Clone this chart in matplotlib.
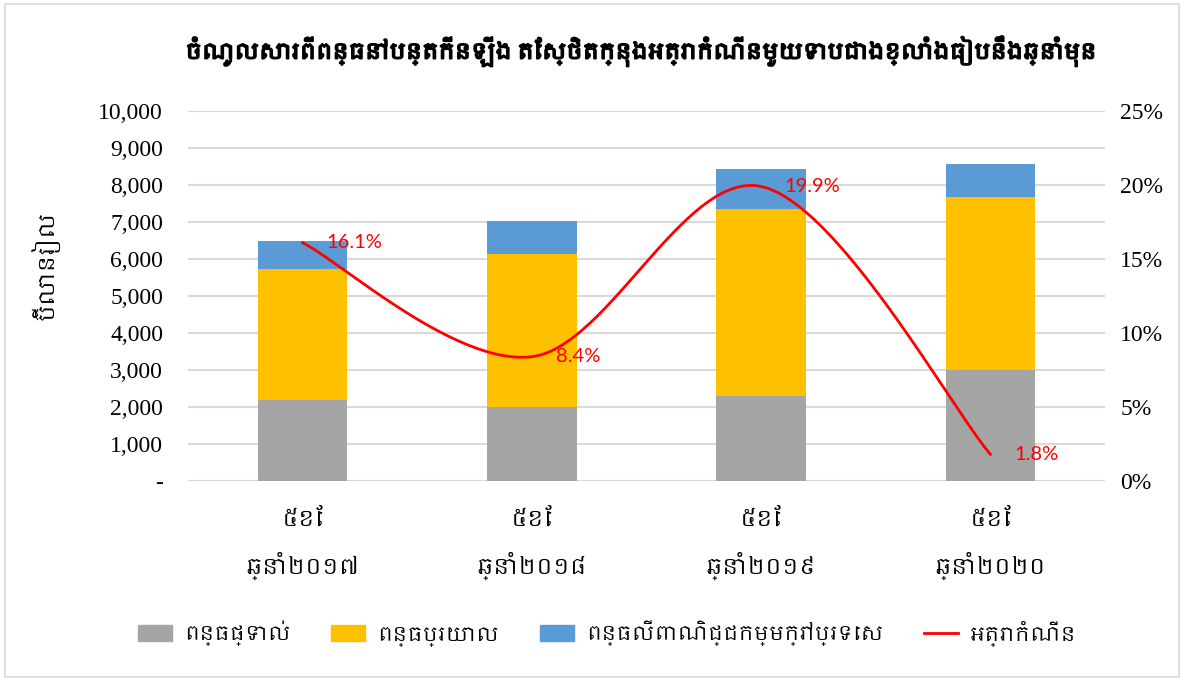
import numpy as np
import matplotlib
matplotlib.use("Agg")
import matplotlib.pyplot as plt
import matplotlib.patheffects as pe
from matplotlib import font_manager
from matplotlib.ft2font import FT2Font
from matplotlib.patches import Patch, Rectangle
from matplotlib.lines import Line2D
from matplotlib.ticker import FuncFormatter, MultipleLocator

# ---------------- data ----------------
months = ["៥ខែ", "៥ខែ", "៥ខែ", "៥ខែ"]
years = ["ឆ្នាំ២០១៧", "ឆ្នាំ២០១៨", "ឆ្នាំ២០១៩", "ឆ្នាំ២០២០"]
direct_tax = [2200, 2010, 2300, 3010]
indirect_tax = [3520, 4120, 5040, 4660]
trade_tax = [770, 900, 1090, 910]
growth = [16.1, 8.4, 19.9, 1.8]
growth_labels = ["16.1%", "8.4%", "19.9%", "1.8%"]
series_names = ["ពន្ធផ្ទាល់", "ពន្ធប្រយោល", "ពន្ធលើពាណិជ្ជកម្មក្រៅប្រទេស", "អត្រាកំណើន"]
title = "ចំណូលសារពើពន្ធនៅបន្តកើនឡើង តែស្ថិតក្នុងអត្រាកំណើនមួយទាបជាងខ្លាំងធៀបនឹងឆ្នាំមុន"
ylabel = "ប៊ីលានរៀល"

# ---------------- fonts ----------------
serif = "Liberation Serif"
plt.rcParams["font.family"] = serif

khmer_family = None
for f in font_manager.fontManager.ttflist:
    if "khmer" in f.name.lower():
        khmer_family = f.name
        break
if khmer_family is None:
    for f in font_manager.fontManager.ttflist:
        try:
            ft = FT2Font(f.fname)
            if ft.get_char_index(0x1780) and ft.get_char_index(0x17E0):
                khmer_family = f.name
                break
        except Exception:
            pass
kfam = [khmer_family, "DejaVu Sans"] if khmer_family else ["DejaVu Sans"]

c_gray, c_yellow, c_blue, c_red = "#A5A5A5", "#FFC000", "#5B9BD5", "#FF0000"

fig = plt.figure(figsize=(11.84, 6.81), dpi=100)
fig.patch.set_facecolor("white")
fig.add_artist(Rectangle((0.004, 0.006), 0.992, 0.988, transform=fig.transFigure,
                         fill=False, edgecolor="#D9D9D9", linewidth=1.2))

ax = fig.add_axes([0.1588, 0.2937, 0.7745, 0.5433])
x = np.arange(len(years))
w = 0.39
b1 = np.array(direct_tax)
b2 = b1 + np.array(indirect_tax)
ax.bar(x, direct_tax, w, color=c_gray, zorder=2)
ax.bar(x, indirect_tax, w, bottom=b1, color=c_yellow, zorder=2)
ax.bar(x, trade_tax, w, bottom=b2, color=c_blue, zorder=2)

ax.set_xlim(-0.5, len(years) - 0.5)
ax.set_ylim(0, 10000)
ax.yaxis.set_major_locator(MultipleLocator(1000))
ax.yaxis.set_major_formatter(FuncFormatter(lambda v, p: "-" if v == 0 else f"{int(v):,}"))
ax.grid(axis="y", color="#D9D9D9", linewidth=1.5, zorder=0)
ax.set_axisbelow(True)
for s in ax.spines.values():
    s.set_visible(False)
ax.tick_params(axis="y", length=0, pad=18, labelsize=17)
ax.set_xticks(x)
ax.set_xticklabels([f"{m}\n{yv}" for m, yv in zip(months, years)], linespacing=2.0,
                   fontfamily=kfam)
ax.tick_params(axis="x", length=0, pad=20, labelsize=16)

# secondary axis with smoothed growth line
ax2 = ax.twinx()
ax2.set_ylim(0, 25)
ax2.yaxis.set_major_locator(MultipleLocator(5))
ax2.yaxis.set_major_formatter(FuncFormatter(lambda v, p: f"{int(v)}%"))
for s in ax2.spines.values():
    s.set_visible(False)
ax2.tick_params(axis="y", length=0, pad=11, labelsize=17)

# Catmull-Rom smoothing (like Excel's smoothed line)
P = np.column_stack([x.astype(float), np.array(growth, dtype=float)])
ext = np.vstack([P[0], P, P[-1]])
curve = []
for i in range(len(P) - 1):
    p0, p1, p2, p3 = ext[i], ext[i + 1], ext[i + 2], ext[i + 3]
    c1 = p1 + (p2 - p0) / 6.0
    c2 = p2 - (p3 - p1) / 6.0
    t = np.linspace(0, 1, 60)[:, None]
    seg = ((1 - t) ** 3) * p1 + 3 * ((1 - t) ** 2) * t * c1 + 3 * (1 - t) * t ** 2 * c2 + t ** 3 * p2
    curve.append(seg if i == 0 else seg[1:])
curve = np.vstack(curve)
ax2.plot(curve[:, 0], curve[:, 1], color=c_red, linewidth=2, zorder=5)
for xi, gv, lab in zip(x, growth, growth_labels):
    ax2.annotate(lab, (xi, gv), xytext=(17, 0), textcoords="offset points",
                 color=c_red, fontsize=14.5, fontfamily="Lato", va="center", ha="left")

# title & labels
title_txt = fig.text(0.54, 0.925, title, ha="center", va="center", fontsize=22,
                     fontweight="bold", fontfamily=kfam,
                     path_effects=[pe.withStroke(linewidth=1.3, foreground="black")])
fig.text(0.038, 0.61, ylabel, rotation=90, ha="center", va="center",
         fontsize=16, fontfamily=kfam)

handles = [Patch(color=c_gray), Patch(color=c_yellow), Patch(color=c_blue),
           Line2D([0], [0], color=c_red, linewidth=2)]
fig.legend(handles, series_names, loc="center", bbox_to_anchor=(0.513, 0.07), ncol=4,
           frameon=False, handlelength=1.7, handleheight=0.85, columnspacing=2.0,
           handletextpad=0.6, prop={"family": kfam, "size": 14.5})

# shrink title to fit the reference's title width (~910 px)
renderer = fig.canvas.get_renderer()
tw = title_txt.get_window_extent(renderer).width
if tw > 910:
    title_txt.set_fontsize(22 * 910 / tw)

fig.savefig("out.png", dpi=100)
